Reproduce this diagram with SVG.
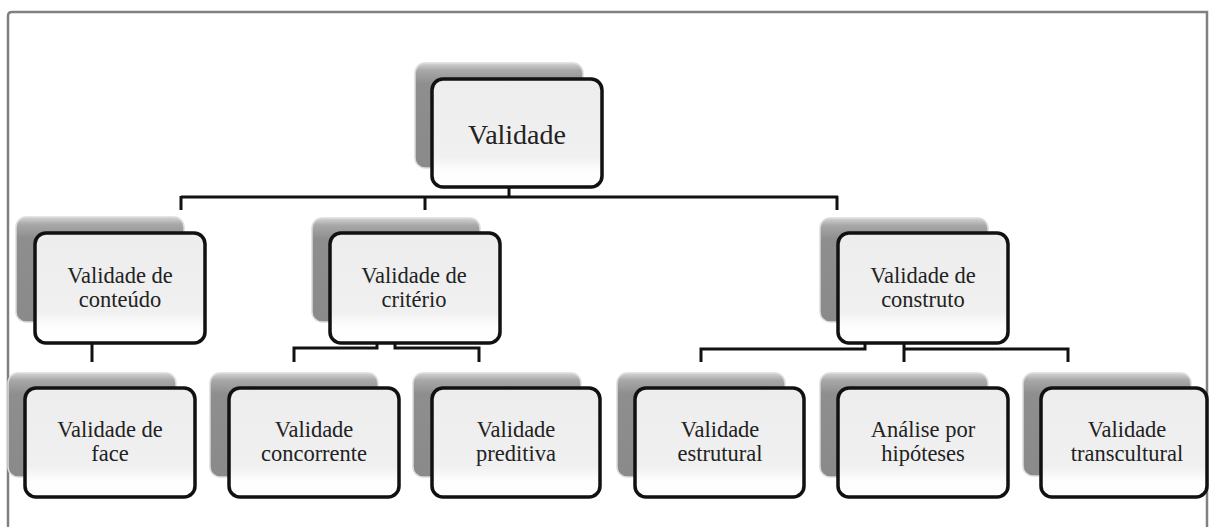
<svg xmlns="http://www.w3.org/2000/svg" width="1209" height="527" viewBox="0 0 1209 527">
<defs>
<linearGradient id="gShadow" x1="0" y1="0" x2="0" y2="1">
<stop offset="0" stop-color="#d4d4d4"/>
<stop offset="0.07" stop-color="#a8a8a8"/>
<stop offset="0.2" stop-color="#8e8e8e"/>
<stop offset="1" stop-color="#8a8a8a"/>
</linearGradient>
<linearGradient id="gFront" x1="0" y1="0" x2="0" y2="1">
<stop offset="0" stop-color="#ededed"/>
<stop offset="0.72" stop-color="#f0f0f0"/>
<stop offset="0.84" stop-color="#fdfdfd"/>
<stop offset="1" stop-color="#ffffff"/>
</linearGradient>
</defs>
<style>
.sh{fill:url(#gShadow);stroke:#dcdcdc;stroke-width:1.5}
.fr{fill:url(#gFront);stroke:#111;stroke-width:3.5}
.t{font-size:22.5px;fill:#222;text-anchor:middle}
.tt{font-size:28px;fill:#222;text-anchor:middle}
.c{fill:none;stroke:#111;stroke-width:3}
.frame{fill:none;stroke:#808080;stroke-width:2.5}
</style>
<rect width="1209" height="527" fill="#ffffff"/>
<path class="frame" d="M8,527 V16 Q8,12 12,12 H1207 V527"/>

<g id="connectors">
<path class="c" d="M509,187 V197 M181,197 H838 M181,196 V210 M425,196 V210 M837,196 V210"/>
<path class="c" d="M92,343 V362"/>
<path class="c" d="M377,343 V348 H294 V362 M395,343 V348 H479 V362"/>
<path class="c" d="M865,343 V349 H701 V362 M904,343 V362 M904,349 H1068 V362"/>
</g>

<g font-family="Liberation Serif, serif">
<g id="n-validade">
<rect class="sh" x="415" y="63" width="168" height="105" rx="10"/>
<rect class="fr" x="432" y="79" width="170" height="108" rx="11"/>
<text class="tt" x="517" y="144" font-family="Liberation Serif, serif">Validade</text>
</g>

<g id="n-conteudo">
<rect class="sh" x="16" y="217" width="168" height="105" rx="10"/>
<rect class="fr" x="35" y="233" width="170" height="110" rx="11"/>
<text class="t" x="120" y="283" font-family="Liberation Serif, serif">Validade de</text>
<text class="t" x="120" y="307" font-family="Liberation Serif, serif">conteúdo</text>
</g>

<g id="n-criterio">
<rect class="sh" x="312" y="218" width="168" height="104" rx="10"/>
<rect class="fr" x="330" y="233" width="170" height="110" rx="11"/>
<text class="t" x="414" y="283" font-family="Liberation Serif, serif">Validade de</text>
<text class="t" x="414" y="307" font-family="Liberation Serif, serif">critério</text>
</g>

<g id="n-construto">
<rect class="sh" x="820" y="218" width="168" height="104" rx="10"/>
<rect class="fr" x="838" y="233" width="170" height="110" rx="11"/>
<text class="t" x="923" y="283" font-family="Liberation Serif, serif">Validade de</text>
<text class="t" x="923" y="307" font-family="Liberation Serif, serif">construto</text>
</g>

<g id="n-face">
<rect class="sh" x="8" y="373" width="168" height="104" rx="10"/>
<rect class="fr" x="25" y="388" width="170" height="109" rx="11"/>
<text class="t" x="110" y="437" font-family="Liberation Serif, serif">Validade de</text>
<text class="t" x="110" y="461" font-family="Liberation Serif, serif">face</text>
</g>

<g id="n-concorrente">
<rect class="sh" x="210" y="373" width="168" height="104" rx="10"/>
<rect class="fr" x="229" y="388" width="170" height="109" rx="11"/>
<text class="t" x="314" y="437" font-family="Liberation Serif, serif">Validade</text>
<text class="t" x="314" y="461" font-family="Liberation Serif, serif">concorrente</text>
</g>

<g id="n-preditiva">
<rect class="sh" x="413" y="373" width="168" height="104" rx="10"/>
<rect class="fr" x="432" y="388" width="168" height="109" rx="11"/>
<text class="t" x="516" y="437" font-family="Liberation Serif, serif">Validade</text>
<text class="t" x="516" y="461" font-family="Liberation Serif, serif">preditiva</text>
</g>

<g id="n-estrutural">
<rect class="sh" x="617" y="373" width="168" height="104" rx="10"/>
<rect class="fr" x="635" y="388" width="169" height="109" rx="11"/>
<text class="t" x="720" y="437" font-family="Liberation Serif, serif">Validade</text>
<text class="t" x="720" y="461" font-family="Liberation Serif, serif">estrutural</text>
</g>

<g id="n-hipoteses">
<rect class="sh" x="820" y="373" width="168" height="104" rx="10"/>
<rect class="fr" x="838" y="388" width="170" height="109" rx="11"/>
<text class="t" x="923" y="437" font-family="Liberation Serif, serif">Análise por</text>
<text class="t" x="923" y="461" font-family="Liberation Serif, serif">hipóteses</text>
</g>

<g id="n-transcultural">
<rect class="sh" x="1023" y="373" width="168" height="103" rx="10"/>
<rect class="fr" x="1041" y="388" width="166" height="109" rx="11"/>
<text class="t" x="1127" y="437" font-family="Liberation Serif, serif">Validade</text>
<text class="t" x="1127" y="461" font-family="Liberation Serif, serif">transcultural</text>
</g>
</g>
</svg>
